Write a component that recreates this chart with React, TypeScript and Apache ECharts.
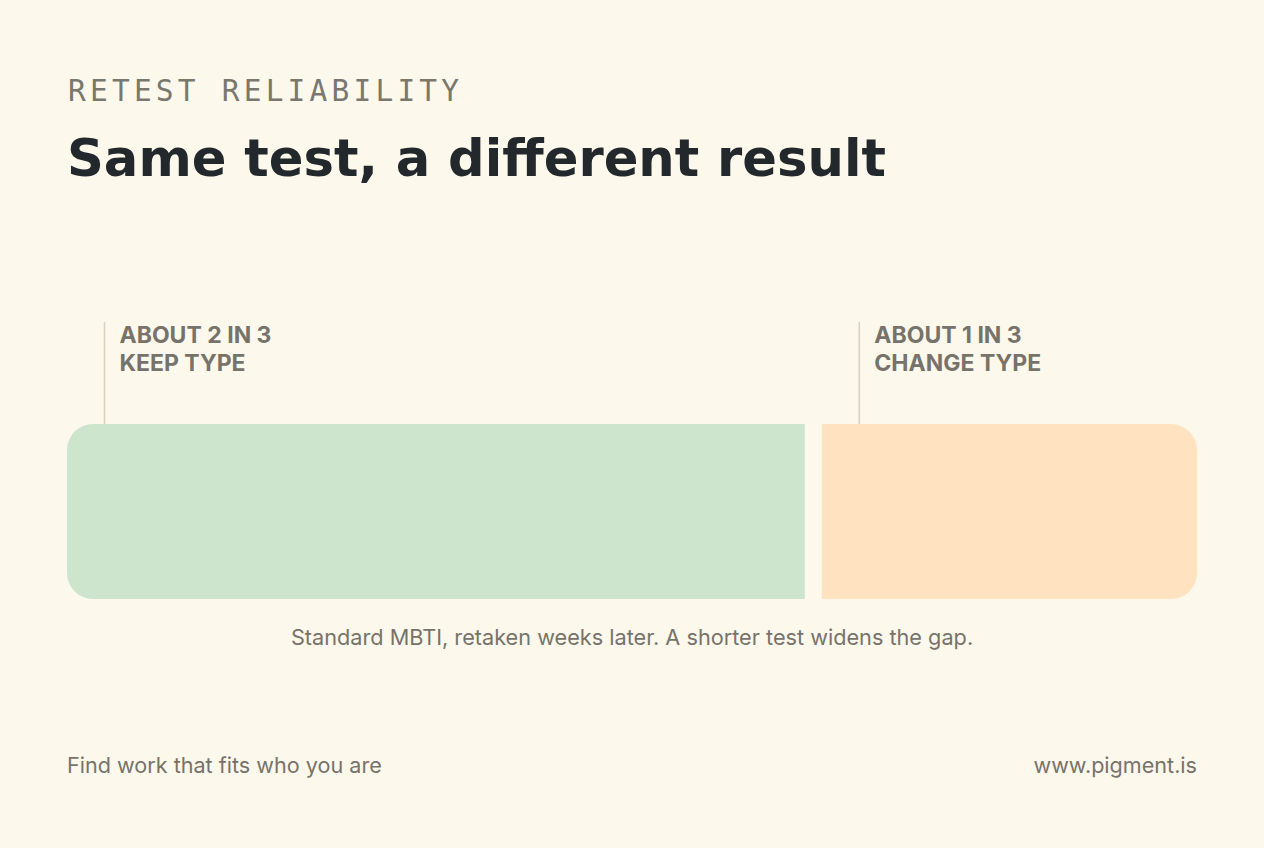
import React, { useEffect, useRef } from "react";
import * as echarts from "echarts";

// Share of test-takers who keep vs. change their type on retest (percent)
const categories = ["Keep type", "Change type"];
const shares = [66, 34];
const calloutLines = [
  ["ABOUT 2 IN 3", "KEEP TYPE"],
  ["ABOUT 1 IN 3", "CHANGE TYPE"],
];
const segmentColors = ["#cde5cd", "#ffe3c0"];

const eyebrow = "RETEST RELIABILITY";
const headline = "Same test, a different result";
const caption = "Standard MBTI, retaken weeks later. A shorter test widens the gap.";
const footerLeft = "Find work that fits who you are";
const footerRight = "www.pigment.is";

const BG = "#fcf8ec";
const MUTED = "#77736b";
const SANS = "Inter, 'Noto Sans', sans-serif";

// tracked-out monospace eyebrow: SVG letter-spacing on the rendered text node
function trackEyebrow(root: HTMLElement | null) {
  if (!root) return;
  root.querySelectorAll("text").forEach((t) => {
    if (t.textContent === eyebrow) t.setAttribute("letter-spacing", "4.2");
  });
}

export default function App() {
  const ref = useRef<HTMLDivElement>(null);

  useEffect(() => {
    if (!ref.current) return;
    const chart = echarts.init(ref.current, null, { renderer: "svg" });

    // cumulative [start, end] for each segment
    let acc = 0;
    const segments = shares.map((v, i) => {
      const start = acc;
      acc += v;
      return { value: [start, acc, i], name: categories[i] };
    });
    // white gap between the segments, split around the boundary
    const gapBefore = 8;
    const gapAfter = 9;
    const radius = 26;

    chart.setOption({
      animation: false,
      backgroundColor: BG,
      grid: { left: 67, right: 67, top: 424, bottom: 249 },
      xAxis: { type: "value", min: 0, max: 100, show: false },
      yAxis: { type: "value", min: 0, max: 1, show: false },
      series: [
        {
          type: "custom",
          data: segments,
          renderItem: (params: any, api: any) => {
            const start = api.value(0);
            const end = api.value(1);
            const idx = api.value(2);
            const n = shares.length;
            const p0 = api.coord([start, 1]);
            const p1 = api.coord([end, 0]);
            const x0 = p0[0] + (idx > 0 ? gapAfter : 0);
            const x1 = p1[0] - (idx < n - 1 ? gapBefore : 0);
            const r =
              idx === 0
                ? [radius, 0, 0, radius]
                : idx === n - 1
                ? [0, radius, radius, 0]
                : 0;
            const lineX = x0 + 37.5;
            return {
              type: "group",
              children: [
                {
                  type: "rect",
                  shape: { x: x0, y: p0[1], width: x1 - x0, height: p1[1] - p0[1], r },
                  style: { fill: segmentColors[idx] },
                },
                {
                  type: "line",
                  shape: { x1: lineX, y1: 322, x2: lineX, y2: p0[1] },
                  style: { stroke: "#d8d1c0", lineWidth: 1.5 },
                },
                {
                  type: "text",
                  x: lineX + 15,
                  y: 321,
                  style: {
                    text: calloutLines[idx].join("\n"),
                    fill: MUTED,
                    font: `700 23px ${SANS}`,
                    lineHeight: 28,
                    align: "left",
                    verticalAlign: "top",
                  },
                },
              ],
            };
          },
        },
      ],
      graphic: [
        {
          type: "text",
          x: 68,
          y: 90.5,
          style: {
            text: eyebrow,
            fill: "#7a776f",
            font: "400 29.5px 'DejaVu Sans Mono', monospace",
            align: "left",
            verticalAlign: "middle",
          },
        },
        {
          type: "text",
          x: 67,
          y: 158,
          style: {
            text: headline,
            fill: "#23282c",
            font: "700 51.2px 'DejaVu Sans', sans-serif",
            align: "left",
            verticalAlign: "middle",
          },
        },
        {
          type: "text",
          x: 632,
          y: 637,
          style: {
            text: caption,
            fill: MUTED,
            font: `400 21.7px ${SANS}`,
            align: "center",
            verticalAlign: "middle",
          },
        },
        {
          type: "text",
          x: 67,
          y: 765,
          style: {
            text: footerLeft,
            fill: MUTED,
            font: `400 21.6px ${SANS}`,
            align: "left",
            verticalAlign: "middle",
          },
        },
        {
          type: "text",
          x: 1197,
          y: 765,
          style: {
            text: footerRight,
            fill: MUTED,
            font: `400 21.6px ${SANS}`,
            align: "right",
            verticalAlign: "middle",
          },
        },
      ],
    });

    trackEyebrow(ref.current);
    const onFinished = () => trackEyebrow(ref.current);
    chart.on("finished", onFinished);

    return () => {
      chart.off("finished", onFinished);
      chart.dispose();
    };
  }, []);

  return (
    <div
      ref={ref}
      style={{ position: "fixed", left: 0, top: 0, width: 1264, height: 848, background: BG }}
    />
  );
}
